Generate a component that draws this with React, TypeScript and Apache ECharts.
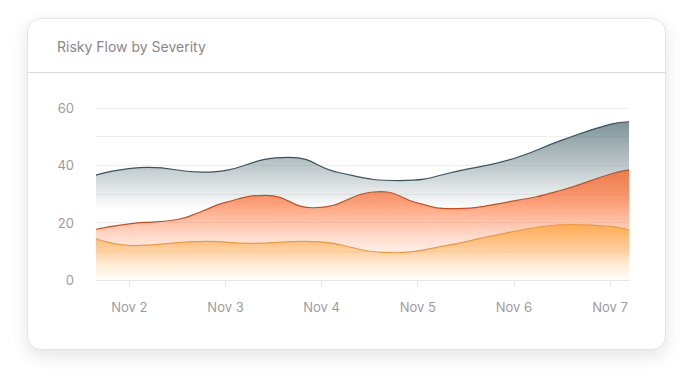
import React, { useEffect, useRef } from "react";
import * as echarts from "echarts";

const TITLE = "Risky Flow by Severity";
const MONTHS = ["Jan", "Feb", "Mar", "Apr", "May", "Jun", "Jul", "Aug", "Sep", "Oct", "Nov", "Dec"];

const criticalTimes = [
  "2024-11-01 15:40", "2024-11-02 04:40", "2024-11-02 18:20", "2024-11-03 15:50",
  "2024-11-04 04:30", "2024-11-04 19:30",
  "2024-11-05 12:00", "2024-11-06 00:00", "2024-11-06 12:00", "2024-11-07 00:00",
  "2024-11-07 04:45",
];
const criticalValues = [36.6, 39.3, 37.6, 42.8, 37.4, 34.7, 38.6, 42.4, 48.8, 54.3, 55.2];

const highTimes = [
  "2024-11-01 15:40", "2024-11-02 00:00", "2024-11-02 12:00", "2024-11-02 18:00",
  "2024-11-03 00:00", "2024-11-03 10:00", "2024-11-03 22:00",
  "2024-11-04 14:45", "2024-11-05 00:00", "2024-11-05 08:00", "2024-11-06 00:00",
  "2024-11-06 12:00", "2024-11-07 00:00", "2024-11-07 04:45",
];
const highValues = [17.7, 19.6, 21.1, 23.9, 27.1, 29.5, 25.2, 30.8, 26.8, 24.9, 27.6, 31.4, 36.9, 38.4];

const mediumTimes = [
  "2024-11-01 15:40", "2024-11-02 01:00", "2024-11-02 19:20", "2024-11-03 06:00",
  "2024-11-03 19:50", "2024-11-04 18:15", "2024-11-05 06:00",
  "2024-11-05 18:00", "2024-11-06 06:00", "2024-11-06 15:10", "2024-11-07 00:00",
  "2024-11-07 04:45",
];
const mediumValues = [14.4, 12.0, 13.5, 12.8, 13.5, 9.5, 11.7, 15.2, 18.4, 19.3, 18.7, 17.5];

const yTicks = [0, 20, 40, 60];

const FONT = "Inter, 'Noto Sans', sans-serif";

function pairs(times: string[], vals: number[]) {
  return vals.map((v, i) => [times[i], v]);
}

function grad(r: number, g: number, b: number, stops: [number, number][]) {
  return new echarts.graphic.LinearGradient(
    0, 0, 0, 1,
    stops.map(([offset, a]) => ({ offset, color: `rgba(${r},${g},${b},${a})` }))
  );
}

export default function App() {
  const ref = useRef<HTMLDivElement>(null);
  useEffect(() => {
    if (!ref.current) return;
    const chart = echarts.init(ref.current, undefined, { renderer: "svg" });
    chart.setOption({
      animation: false,
      backgroundColor: "transparent",
      title: {
        text: TITLE,
        left: 57,
        top: 39,
        padding: 0,
        textStyle: { fontFamily: FONT, fontSize: 14, fontWeight: 400, color: "#888888" },
      },
      graphic: [
        {
          type: "line",
          shape: { x1: 28, y1: 72.5, x2: 665, y2: 72.5 },
          style: { stroke: "#dadada", lineWidth: 1 },
          silent: true,
        },
      ],
      grid: { left: 96, right: 64, top: 108, bottom: 107, containLabel: false },
      xAxis: {
        type: "time",
        min: "dataMin",
        max: "dataMax",
        minInterval: 86400000,
        maxInterval: 86400000,
        axisLine: { show: true, lineStyle: { color: "#e6e6e6" } },
        axisTick: { show: true, length: 6, lineStyle: { color: "#e3e3e3" } },
        splitLine: { show: false },
        axisLabel: {
          margin: 20,
          fontFamily: FONT,
          fontSize: 13,
          color: "#9c9c9c",
          showMinLabel: false,
          showMaxLabel: false,
          formatter: (v: number) => {
            const d = new Date(v);
            return `${MONTHS[d.getMonth()]} ${d.getDate()}`;
          },
        },
      },
      yAxis: {
        type: "value",
        min: 0,
        max: 60,
        interval: 10,
        axisLine: { show: false },
        axisTick: { show: false },
        splitLine: { lineStyle: { color: "#efefef", width: 1 } },
        axisLabel: {
          margin: 22,
          fontFamily: FONT,
          fontSize: 13,
          color: "#9c9c9c",
          formatter: (v: number) => (yTicks.includes(v) ? String(v) : ""),
        },
      },
      series: [
        {
          name: "Critical",
          type: "line",
          smooth: 0.5,
          symbol: "none",
          data: pairs(criticalTimes, criticalValues),
          lineStyle: { color: "#36555f", width: 1.2 },
          areaStyle: { color: grad(62, 94, 102, [[0, 0.95], [0.3, 0.45], [0.55, 0], [1, 0]]) },
          z: 2,
        },
        {
          name: "High",
          type: "line",
          smooth: 0.5,
          symbol: "none",
          data: pairs(highTimes, highValues),
          lineStyle: { color: "#d9480f", width: 1.2 },
          areaStyle: { color: grad(255, 90, 20, [[0, 1], [0.3, 0.8], [0.6, 0.32], [0.85, 0], [1, 0]]) },
          z: 3,
        },
        {
          name: "Medium",
          type: "line",
          smooth: 0.5,
          symbol: "none",
          data: pairs(mediumTimes, mediumValues),
          lineStyle: { color: "#f29a2e", width: 1.2 },
          areaStyle: { color: grad(255, 160, 45, [[0, 0.95], [0.5, 0.5], [1, 0.03]]) },
          z: 4,
        },
      ],
    });
    return () => chart.dispose();
  }, []);

  return (
    <div style={{ position: "fixed", left: 0, top: 0, width: 693, height: 387, background: "#ffffff" }}>
      <div
        style={{
          position: "absolute",
          left: 27,
          top: 18,
          width: 639,
          height: 332,
          boxSizing: "border-box",
          borderRadius: 14,
          background: "#ffffff",
          border: "1px solid #e4e4e4",
          boxShadow: "0 6px 18px rgba(0,0,0,0.11)",
        }}
      />
      <div ref={ref} style={{ position: "absolute", left: 0, top: 0, width: 693, height: 387 }} />
    </div>
  );
}
